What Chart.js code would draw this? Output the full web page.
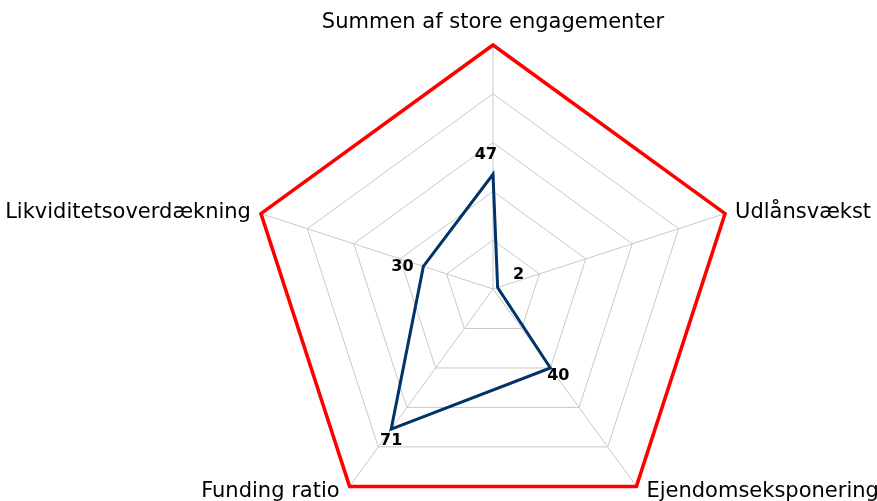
<!DOCTYPE html>
<html>
<head>
<meta charset="utf-8">
<script src="https://cdn.jsdelivr.net/npm/chart.js@4/dist/chart.umd.min.js"></script>
<style>
    html, body { margin: 0; padding: 0; background: #fff; overflow: hidden; }
    #wrap { width: 877px; height: 501px; overflow: hidden; }
</style>
</head>
<body>
<div id="wrap">
    <canvas id="radar" width="877" height="540"></canvas>
</div>
<script>
// 类别（雷达图的各个轴）
const categories = ['Summen af store engagementer', 'Udlånsvækst', 'Ejendomseksponering', 'Funding ratio', 'Likviditetsoverdækning'];
// 实际值
const actualValues = [47, 2, 40, 71, 30];
// 上限（红线）
const limitValues = [100, 100, 100, 100, 100];
// 刻度
const scaleMin = 0;
const scaleMax = 100;
const scaleStep = 20;

// 数据标签偏移（像素）
const labelOffsets = [[-7, -19], [21, -13], [8, 8], [0, 12], [-21, 0]];

// 自绘轴标签和数据标签
const labelPlugin = {
    id: 'labelPlugin',
    afterDraw: function(chart) {
        const ctx = chart.ctx;
        const r = chart.scales.r;
        const R = r.drawingArea;
        ctx.save();

        // 轴标签
        ctx.fillStyle = '#000';
        ctx.font = '21px "DejaVu Sans"';
        categories.forEach(function(label, i) {
            const p = r.getPointPosition(i, R);
            ctx.textBaseline = 'middle';
            if (i === 0) {
                ctx.textAlign = 'center';
                ctx.fillText(label, p.x, p.y - 22);
            } else if (p.x > r.xCenter) {
                ctx.textAlign = 'left';
                ctx.fillText(label, p.x + 10, p.y + (p.y > r.yCenter ? 5 : -1));
            } else {
                ctx.textAlign = 'right';
                ctx.fillText(label, p.x - 10, p.y + (p.y > r.yCenter ? 5 : -1));
            }
        });

        // 数据标签
        ctx.font = 'bold 16px "DejaVu Sans"';
        ctx.textAlign = 'center';
        ctx.textBaseline = 'middle';
        const meta = chart.getDatasetMeta(1);
        meta.data.forEach(function(pt, i) {
            const off = labelOffsets[i];
            ctx.fillText(String(actualValues[i]), pt.x + off[0], pt.y + off[1]);
        });
        ctx.restore();
    }
};

new Chart(document.getElementById('radar'), {
    type: 'radar',
    data: {
        labels: categories,
        datasets: [{
            label: 'Grænseværdi',
            data: limitValues,
            borderColor: '#ff0000',
            borderWidth: 3.5,
            backgroundColor: 'transparent',
            fill: false,
            pointRadius: 0
        }, {
            label: 'Værdi',
            data: actualValues,
            borderColor: '#003366',
            borderWidth: 3,
            backgroundColor: 'transparent',
            fill: false,
            pointRadius: 0
        }]
    },
    options: {
        responsive: false,
        animation: false,
        devicePixelRatio: 1,
        layout: {
            padding: { left: 249, right: 140, top: 45, bottom: 7 }
        },
        plugins: {
            legend: { display: false },
            tooltip: { enabled: false }
        },
        elements: {
            line: { tension: 0 }
        },
        scales: {
            r: {
                min: scaleMin,
                max: scaleMax,
                ticks: { display: false, stepSize: scaleStep },
                grid: { color: '#c8c8c8', lineWidth: 1 },
                angleLines: { color: '#c8c8c8', lineWidth: 1 },
                pointLabels: { display: false }
            }
        }
    },
    plugins: [labelPlugin]
});
</script>
</body>
</html>
